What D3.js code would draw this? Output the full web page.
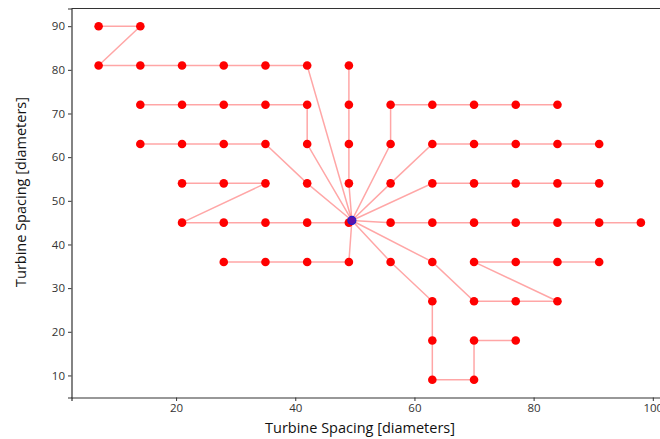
<!DOCTYPE html>
<html>
<head>
<meta charset="utf-8">
<script src="https://d3js.org/d3.v7.min.js"></script>
<style>
	body { margin: 0; background: #fff; }
	svg { display: block; font-family: "Open Sans", sans-serif; }
</style>
</head>
<body>
<svg id="chart" width="660" height="439"></svg>
<script>
// substation position [diameters]
var substation = [49.5, 45.5];

// cable strings, each one runs from the far turbine into the substation
var cable1 = [[7, 90], [14, 90], [7, 81], [14, 81], [21, 81], [28, 81], [35, 81], [42, 81]];
var cable2 = [[14, 72], [21, 72], [28, 72], [35, 72], [42, 72], [42, 63]];
var cable3 = [[14, 63], [21, 63], [28, 63], [35, 63], [42, 54]];
var cable4 = [[21, 54], [28, 54], [35, 54], [21, 45], [28, 45], [35, 45], [42, 45], [49, 45]];
var cable5 = [[49, 81], [49, 72], [49, 63], [49, 54]];
var cable6 = [[84, 72], [77, 72], [70, 72], [63, 72], [56, 72], [56, 63]];
var cable7 = [[91, 63], [84, 63], [77, 63], [70, 63], [63, 63], [56, 54]];
var cable8 = [[91, 54], [84, 54], [77, 54], [70, 54], [63, 54]];
var cable9 = [[98, 45], [91, 45], [84, 45], [77, 45], [70, 45], [63, 45], [56, 45]];
var cable10 = [[28, 36], [35, 36], [42, 36], [49, 36]];
var cable11 = [[77, 18], [70, 18], [70, 9], [63, 9], [63, 18], [63, 27], [56, 36]];
var cable12 = [[91, 36], [84, 36], [77, 36], [70, 36], [84, 27], [77, 27], [70, 27], [63, 36]];

var cables = [cable1, cable2, cable3, cable4, cable5, cable6, cable7, cable8, cable9, cable10, cable11, cable12];

var xTicks = [20, 40, 60, 80, 100];
var yTicks = [10, 20, 30, 40, 50, 60, 70, 80, 90];

var axisLabel = 'Turbine Spacing [diameters]';

// every turbine is a vertex of some cable
var turbines = [];
cables.forEach(c => c.forEach(p => turbines.push(p)));

var svg = d3.select('#chart');

var x = d3.scaleLinear()
			.domain([2.45, 102.55])
			.range([71.5, 668]);
var y = d3.scaleLinear()
			.domain([4.95, 94.05])
			.range([397.5, 8.5]);

var line = d3.line()
				.x(d => x(d[0]))
				.y(d => y(d[1]));

// axes
var xAxis = svg.append('g')
	.attr('transform', `translate(0,${y.range()[0]})`)
	.call(d3.axisBottom(x).tickValues(xTicks).tickSize(3.5).tickPadding(3).tickFormat(d3.format('d')));
var yAxis = svg.append('g')
	.attr('transform', `translate(${x.range()[0]},0)`)
	.call(d3.axisLeft(y).tickValues(yTicks).tickSize(3.5).tickPadding(3).tickFormat(d3.format('d')));

[xAxis, yAxis].forEach(a => {
	a.select('.domain').attr('stroke', '#333').attr('stroke-width', 1.2);
	a.selectAll('.tick line').attr('stroke', '#333');
	a.selectAll('.tick text')
		.attr('fill', '#333')
		.style('font-size', '11.5px')
		.style('font-family', '"Open Sans", sans-serif');
});

// top spine (right one sits outside the picture)
svg.append('line')
	.attr('x1', x.range()[0])
	.attr('x2', x.range()[1])
	.attr('y1', y.range()[1])
	.attr('y2', y.range()[1])
	.attr('stroke', '#333')
	.attr('stroke-width', 1.2);

// cables
svg.append('g')
	.selectAll('path')
	.data(cables)
	.enter()
	.append('path')
		.attr('d', d => line(d.concat([substation])))
		.attr('fill', 'none')
		.attr('stroke', 'red')
		.attr('stroke-opacity', 0.35)
		.attr('stroke-width', 1.5);

// turbines
svg.append('g')
	.selectAll('circle')
	.data(turbines)
	.enter()
	.append('circle')
		.attr('cx', d => x(d[0]))
		.attr('cy', d => y(d[1]))
		.attr('r', 4.3)
		.attr('fill', 'red');

// substation
svg.append('circle')
	.attr('cx', x(substation[0]))
	.attr('cy', y(substation[1]))
	.attr('r', 4)
	.attr('fill', '#6010a8')
	.attr('stroke', '#2020d0')
	.attr('stroke-width', 1.2);

// labels
svg.append('text')
	.attr('x', 360)
	.attr('y', 433)
	.attr('text-anchor', 'middle')
	.attr('fill', '#111')
	.style('font-size', '14.5px')
	.text(axisLabel);

svg.append('text')
	.attr('transform', 'translate(26,192) rotate(-90)')
	.attr('text-anchor', 'middle')
	.attr('fill', '#111')
	.style('font-size', '14.5px')
	.text(axisLabel);
</script>
</body>
</html>
